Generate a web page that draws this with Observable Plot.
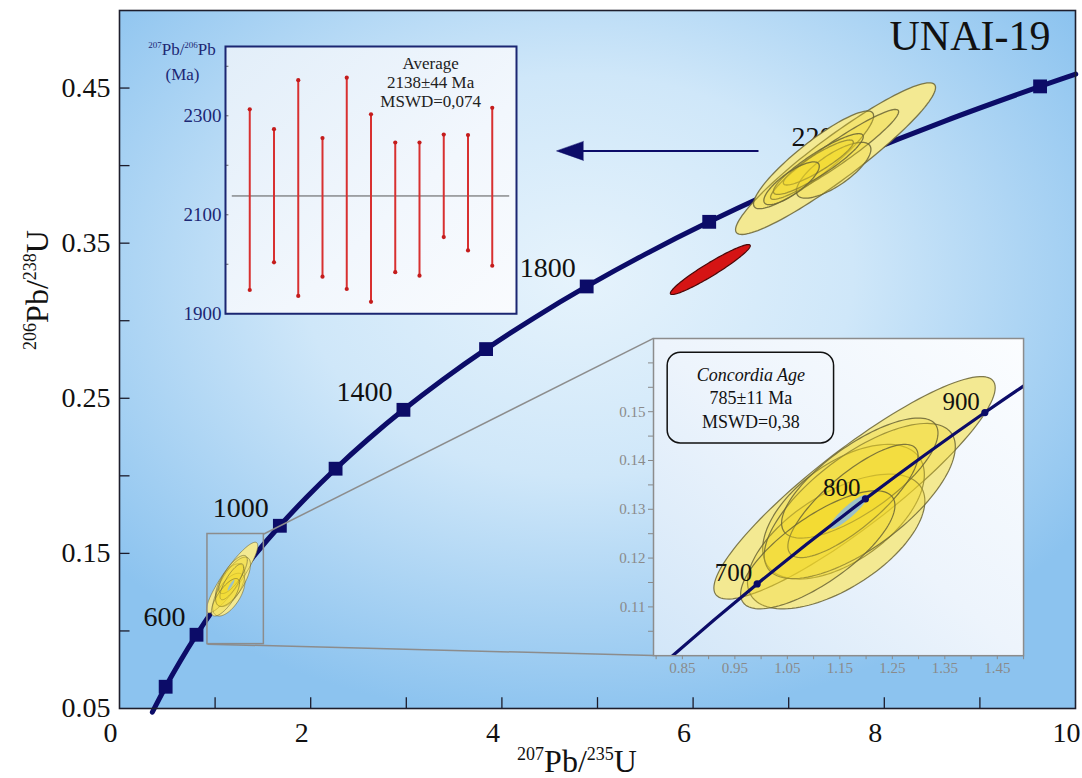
<!DOCTYPE html>
<html><head><meta charset="utf-8">
<script src="https://cdn.jsdelivr.net/npm/d3@7"></script>
<script src="https://cdn.jsdelivr.net/npm/@observablehq/plot@0.6"></script>
<style>
html,body{margin:0;padding:0;background:#fff;}
#wrap{position:relative;width:1082px;height:778px;overflow:hidden;}
#wrap > svg{position:absolute;left:0;top:0;}
.inset{position:absolute;}
</style></head><body><div id="wrap"></div>
<script>
// ---------------- DATA ----------------
// Concordia curve (206Pb/238U vs 207Pb/235U), points every 100 Ma
const concordiaAge = [300,400,500,600,700,800,900,1000,1100,1200,1300,1400,1500,1600,1700,1800,1900,2000,2100,2200,2300,2400,2435];
const concordiaX = [0.3437,0.4828,0.6363,0.8056,0.9925,1.1987,1.4263,1.6774,1.9545,2.2603,2.5977,2.9701,3.3810,3.8344,4.3348,4.8869,5.4962,6.1685,6.9105,7.7292,8.6326,9.6296,10.0024];
const concordiaY = [0.04764,0.06402,0.08065,0.09754,0.11470,0.13213,0.14983,0.16780,0.18606,0.20460,0.22343,0.24256,0.26199,0.28171,0.30175,0.32210,0.34277,0.36376,0.38508,0.40674,0.42873,0.45107,0.45897];
const markerAges = [400,600,800,1000,1200,1400,1600,1800,2000,2200,2400];
const labelAges = [600,1000,1400,1800,2200];
const insetAges = [700,800,900];

// Young zircon population (~785 Ma) error ellipses
const youngId  = ["a","b","c","d","e","f","g"];
const youngX   = [1.178,1.157,1.143,1.188,1.188,1.175,1.108];
const youngY   = [0.1344,0.1295,0.1234,0.1317,0.1364,0.1317,0.1217];
const youngSX  = [0.268,0.154,0.169,0.182,0.149,0.124,0.147];
const youngSY  = [0.0228,0.0138,0.0138,0.0159,0.0123,0.0116,0.0121];
const youngRho = [0.90,0.55,0.60,0.70,0.75,0.80,0.75];
// Concordia age ellipse
const concAgeX = [1.1666], concAgeY = [0.12949], concAgeSX = [0.036], concAgeSY = [0.0035], concAgeRho = [0.9];

// Old zircon population (~2138 Ma)
const oldId  = ["p1","p2","p3","p4","p5","p6","p7"];
const oldX   = [7.49,7.26,7.48,7.47,7.31,7.31,7.03];
const oldY   = [0.4045,0.4037,0.4072,0.397,0.402,0.401,0.3886];
const oldSX  = [1.046,0.628,0.67,0.39,0.366,0.47,0.29];
const oldSY  = [0.0489,0.0315,0.029,0.018,0.0145,0.0196,0.0138];
const oldRho = [0.937,0.90,0.95,0.75,0.90,0.90,0.80];

// Discordant analysis (red)
const discX = [6.18], discY = [0.333], discSX = [0.418], discSY = [0.0161], discRho = [0.952];

// Weighted average 207Pb/206Pb ages (Ma): upper and lower error limits
const avgTop    = [2313,2273,2372,2255,2377,2303,2246,2246,2262,2261,2316];
const avgBottom = [1948,2004,1936,1975,1950,1924,1984,1977,2055,2028,1997];
const avgMean = 2138;
const avgLines = ["Average","2138±44 Ma","MSWD=0,074"];
const concLines = ["Concordia Age","785±11 Ma","MSWD=0,38"];

// Axis ticks & labels
const mainXTicks = [1,2,3,4,5,6,7,8,9];
const mainXLabels = [0,2,4,6,8,10];
const mainYTicks = [0.10,0.15,0.20,0.25,0.30,0.35,0.40,0.45];
const mainYLabels = [0.05,0.15,0.25,0.35,0.45];
const insetXTicks = [0.80,0.85,0.90,0.95,1.00,1.05,1.10,1.15,1.20,1.25,1.30,1.35,1.40,1.45,1.50];
const insetXLabels = [0.85,0.95,1.05,1.15,1.25,1.35,1.45];
const insetYTicks = [0.105,0.11,0.115,0.12,0.125,0.13,0.135,0.14,0.145,0.15,0.155,0.16];
const insetYLabels = [0.11,0.12,0.13,0.14,0.15];
const avgYTicks = [1900,2000,2100,2200,2300,2400];
const avgYLabels = [1900,2100,2300];

// ---------------- LAYOUT (annotation placement, main data units) ----------------
const zoomBox = {x1:0.92, x2:1.51, y1:0.0915, y2:0.1625};
const insetC = {x1:5.585, x2:9.456, y1:0.0841, y2:0.2886};
const insetA = {x1:1.109, x2:4.153, y1:0.3047, y2:0.477};
const arrowPos = {x1:6.684, x2:4.571, y:0.4095};

// ---------------- HELPERS ----------------
const FONT = "'Liberation Serif','Times New Roman',serif";
const NAVY = "#0c0c68";
const curve = concordiaAge.map((t,i)=>({t, x:concordiaX[i], y:concordiaY[i]}));
const at = ages => ages.map(a => curve.find(d => d.t === a));
const near = (list, d) => list.some(v => Math.abs(v - d) < 1e-9);

function ellipsePts(ids, X, Y, SX, SY, R, n=120){
  const pts=[];
  ids.forEach((id,j)=>{
    const k=Math.sqrt(1-R[j]*R[j]);
    for(let i=0;i<n;i++){
      const a=2*Math.PI*i/n;
      pts.push({id, x:X[j]+SX[j]*Math.cos(a), y:Y[j]+SY[j]*(R[j]*Math.cos(a)+k*Math.sin(a))});
    }
  });
  return pts;
}
function ellipseMarks(pts, sw=1.2){
  return [
    Plot.line(pts,{x:"x",y:"y",z:"id",fill:"#f3efc0",stroke:"none",curve:"linear-closed"}),
    Plot.line(pts,{x:"x",y:"y",z:"id",fill:"#f4dc28",fillOpacity:0.3,stroke:"#6a6436",strokeOpacity:0.85,strokeWidth:sw,curve:"linear-closed"})
  ];
}
function bgRect(id, type, attrs, stops){
  return (index, scales, values, dims) => {
    const g = d3.create("svg:g");
    const gr = g.append("defs").append(type).attr("id", id);
    for (const [k,v] of Object.entries(attrs)) gr.attr(k, v);
    stops.forEach(([o,c]) => gr.append("stop").attr("offset", o).attr("stop-color", c));
    g.append("rect").attr("x", dims.marginLeft).attr("y", dims.marginTop)
      .attr("width", dims.width - dims.marginLeft - dims.marginRight)
      .attr("height", dims.height - dims.marginTop - dims.marginBottom)
      .attr("fill", `url(#${id})`);
    return g.node();
  };
}
function supText(parts, pos, {size, supSize, rise, fill="#111", rotate=0}){
  return (index, scales, values, dims) => {
    const [px, py] = pos(dims);
    const t = d3.create("svg:text").attr("transform", `translate(${px},${py}) rotate(${rotate})`)
      .attr("text-anchor","middle").attr("font-size", size).attr("fill", fill).attr("font-family", FONT);
    let up = false;
    for (const [s, sup] of parts){
      const ts = t.append("tspan").text(s);
      if (sup){ ts.attr("font-size", supSize); if(!up){ ts.attr("dy", -rise); up = true; } }
      else if (up){ ts.attr("dy", rise); up = false; }
    }
    return t.node();
  };
}

const youngPts = ellipsePts(youngId, youngX, youngY, youngSX, youngSY, youngRho);
const concAgePts = ellipsePts(["ca"], concAgeX, concAgeY, concAgeSX, concAgeSY, concAgeRho);
const oldPts = ellipsePts(oldId, oldX, oldY, oldSX, oldSY, oldRho);
const discPts = ellipsePts(["r"], discX, discY, discSX, discSY, discRho);

// ---------------- MAIN CHART ----------------
const wrap = document.getElementById("wrap");
const main = Plot.plot({
  width:1082, height:778, marginLeft:119, marginRight:7, marginTop:10, marginBottom:70,
  x:{domain:[0,10], axis:null}, y:{domain:[0.05,0.5], axis:null},
  style:{fontFamily:FONT, background:"transparent", color:"#111", overflow:"visible"},
  marks:[
    bgRect("mainBg","radialGradient",{cx:"48%",cy:"38%",r:"64%"},[[0,"#e6f3fc"],[0.45,"#cfe7f9"],[1,"#8cc3ef"]]),
    Plot.ruleY(mainYTicks,{y:d=>d, x1:0, x2:0.11, stroke:"#1b1b2b", strokeWidth:1.3}),
    Plot.ruleX(mainXTicks,{x:d=>d, y1:0.05, y2:0.057, stroke:"#1b1b2b", strokeWidth:1.3}),
    Plot.line(curve,{x:"x", y:"y", stroke:NAVY, strokeWidth:5, curve:"catmull-rom"}),
    Plot.dot(at(markerAges),{x:"x", y:"y", symbol:"square", r:7.8, fill:NAVY}),
    Plot.text(at(labelAges),{x:"x", y:"y", text:d=>String(d.t), textAnchor:"end", dx:-11, dy:-18, fontSize:28, fill:"#111"}),
    ...ellipseMarks(oldPts, 1.3),
    ...ellipseMarks(youngPts, 0.7),
    Plot.line(concAgePts,{x:"x", y:"y", z:"id", fill:"#9cc1c5", stroke:"none", curve:"linear-closed"}),
    Plot.line(discPts,{x:"x", y:"y", z:"id", fill:"#d51414", stroke:"#4a0808", strokeWidth:1.2, curve:"linear-closed"}),
    Plot.rect([zoomBox],{x1:"x1", x2:"x2", y1:"y1", y2:"y2", fill:"none", stroke:"#8c8c8c", strokeWidth:1.5}),
    Plot.link([{x1:zoomBox.x2, y1:zoomBox.y2, x2:insetC.x1, y2:insetC.y2},{x1:zoomBox.x1, y1:zoomBox.y1, x2:insetC.x1, y2:insetC.y1}],
      {x1:"x1", y1:"y1", x2:"x2", y2:"y2", stroke:"#8c8c8c", strokeWidth:1.5}),
    Plot.link([arrowPos],{x1:"x1", x2:d=>d.x2+0.1, y1:"y", y2:"y", stroke:NAVY, strokeWidth:2}),
    Plot.vector([arrowPos],{x:"x2", y:"y", rotate:-90, length:27, r:9.5, shape:"spike", anchor:"end", fill:NAVY, stroke:NAVY, strokeWidth:0.5}),
    Plot.text(["UNAI-19"],{text:d=>d, frameAnchor:"top-right", lineAnchor:"top", dx:-25, dy:10, fontSize:42, fill:"#111"}),
    Plot.text(mainYLabels,{x:0, y:d=>d, text:d=>d.toFixed(2), textAnchor:"end", dx:-9, fontSize:28, fill:"#111"}),
    Plot.text(mainXLabels,{x:d=>d, y:0.05, text:d=>String(d), dx:-9, dy:25, fontSize:28, fill:"#111"}),
    supText([["207",true],["Pb/",false],["235",true],["U",false]], dims=>[(dims.marginLeft+dims.width-dims.marginRight)/2-20, dims.height-6], {size:32, supSize:18, rise:12}),
    supText([["206",true],["Pb/",false],["238",true],["U",false]], dims=>[48, 290], {size:32, supSize:18, rise:12, rotate:-90}),
    Plot.frame({stroke:"#1e1e2c", strokeWidth:1.6})
  ]
});
wrap.appendChild(main);
const sx = main.scale("x"), sy = main.scale("y");

// ---------------- CONCORDIA ZOOM INSET ----------------
{
  const L = sx.apply(insetC.x1), R = sx.apply(insetC.x2), T = sy.apply(insetC.y2), B = sy.apply(insetC.y1);
  const m = {l:50, r:4, t:4, b:30};
  const ci = Plot.plot({
    width: R-L+m.l+m.r, height: B-T+m.t+m.b, marginLeft:m.l, marginRight:m.r, marginTop:m.t, marginBottom:m.b,
    x:{domain:[0.795,1.5], axis:null}, y:{domain:[0.1,0.165], axis:null},
    style:{fontFamily:FONT, background:"transparent", color:"#8a8a8a", overflow:"visible"},
    marks:[
      bgRect("insetBg","linearGradient",{x1:"0%",y1:"100%",x2:"100%",y2:"0%"},[[0,"#d2e6f8"],[0.5,"#edf4fc"],[1,"#fbfdff"]]),
      ...ellipseMarks(youngPts, 1.2),
      Plot.line(concAgePts,{x:"x", y:"y", z:"id", fill:"#9cc1c5", stroke:"none", curve:"linear-closed"}),
      Plot.line(curve,{x:"x", y:"y", stroke:NAVY, strokeWidth:3.2, curve:"catmull-rom", clip:true}),
      Plot.dot(at(insetAges),{x:"x", y:"y", r:3.6, fill:NAVY}),
      Plot.text(at(insetAges),{x:"x", y:"y", text:d=>String(d.t), textAnchor:"end", dx:-5, dy:-11, fontSize:25, fill:"#111"}),
      Plot.rect([{x1:0.822, x2:1.139, y1:0.1435, y2:0.1621}],{x1:"x1", x2:"x2", y1:"y1", y2:"y2", rx:13, fill:"none", stroke:"#111", strokeWidth:1.5}),
      Plot.text([concLines[0]],{text:d=>d, x:0.9805, y:0.1575, fontSize:18, fontStyle:"italic", fill:"#111"}),
      Plot.text(concLines.slice(1),{text:d=>d, x:0.9805, y:(d,i)=>[0.1528,0.1479][i], fontSize:18, fill:"#111"}),
      Plot.axisX(insetXTicks,{tickSize:4, tickPadding:3, fontSize:15, color:"#8a8a8a",
        tickFormat:d=>(near(insetXLabels, d) ? d.toFixed(2) : "")}),
      Plot.axisY(insetYTicks,{tickSize:5, tickPadding:3, fontSize:15, color:"#8a8a8a",
        tickFormat:d=>(near(insetYLabels, d) ? d.toFixed(2) : "")}),
      Plot.frame({stroke:"#8c8c8c", strokeWidth:1.5})
    ]
  });
  const div = document.createElement("div");
  div.className = "inset";
  div.style.left = (L-m.l)+"px"; div.style.top = (T-m.t)+"px";
  div.appendChild(ci); wrap.appendChild(div);
}

// ---------------- WEIGHTED AVERAGE INSET ----------------
{
  const L = sx.apply(insetA.x1), R = sx.apply(insetA.x2), T = sy.apply(insetA.y2), B = sy.apply(insetA.y1);
  const m = {l:80, r:4, t:12, b:6};
  const bars = avgTop.map((hi,i)=>({i:i+1, hi, lo:avgBottom[i]}));
  const ends = bars.flatMap(d=>[{i:d.i, v:d.hi},{i:d.i, v:d.lo}]);
  const ai = Plot.plot({
    width: R-L+m.l+m.r, height: B-T+m.t+m.b, marginLeft:m.l, marginRight:m.r, marginTop:m.t, marginBottom:m.b,
    x:{domain:[0,12], axis:null}, y:{domain:[1900,2440], axis:null},
    style:{fontFamily:FONT, background:"transparent", color:"#1c2774", overflow:"visible"},
    marks:[
      bgRect("avgBg","linearGradient",{x1:"0%",y1:"0%",x2:"100%",y2:"100%"},[[0,"#e2eef9"],[0.6,"#f2f7fd"],[1,"#f9fbfe"]]),
      Plot.ruleY(avgYTicks,{y:d=>d, x1:0, x2:0.14, stroke:"#666", strokeWidth:1}),
      Plot.ruleY([avgMean],{y:d=>d, x1:0.28, x2:11.72, stroke:"#555", strokeWidth:1}),
      Plot.ruleX(bars,{x:"i", y1:"lo", y2:"hi", stroke:"#d83030", strokeWidth:2}),
      Plot.dot(ends,{x:"i", y:"v", r:2.1, fill:"#c41c1c"}),
      Plot.text([avgLines.join("\n")],{text:d=>d, x:8.46, y:2421, lineAnchor:"top", lineHeight:1.12, fontSize:17, fill:"#222"}),
      Plot.text(avgYLabels,{x:0, y:d=>d, text:d=>String(d), textAnchor:"end", dx:-4, fontSize:19, fill:"#1c2774"}),
      supText([["207",true],["Pb/",false],["206",true],["Pb",false]], dims=>[dims.marginLeft-43, dims.marginTop+9], {size:17, supSize:9, rise:7, fill:"#1c2774"}),
      Plot.text(["(Ma)"],{text:d=>d, frameAnchor:"top-left", textAnchor:"middle", dx:-43, dy:21, lineAnchor:"top", fontSize:17, fill:"#1c2774"}),
      Plot.frame({stroke:"#1b2672", strokeWidth:2})
    ]
  });
  const div = document.createElement("div");
  div.className = "inset";
  div.style.left = (L-m.l)+"px"; div.style.top = (T-m.t)+"px";
  div.appendChild(ai); wrap.appendChild(div);
}
</script></body></html>
